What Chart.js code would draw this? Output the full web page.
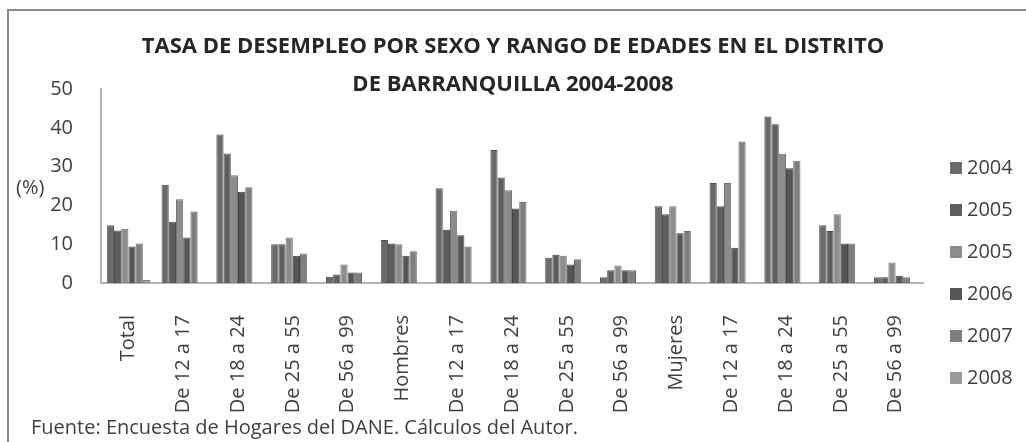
<!DOCTYPE html>
<html>
<head>
<meta charset="utf-8">
<script src="https://cdn.jsdelivr.net/npm/chart.js@4.4.1/dist/chart.umd.min.js"></script>
<style>
  html, body { margin: 0; padding: 0; background: #fff; }
  #wrap { position: relative; width: 1026px; height: 442px; overflow: hidden; }
  #frame { position: absolute; left: 7px; top: 9px; width: 1100px; height: 500px;
           border-top: 2px solid #8a8a8a; border-left: 2px solid #8a8a8a; }
  canvas { position: absolute; left: 0; top: 0; }
</style>
</head>
<body>
<div id="wrap">
  <div id="frame"></div>
  <canvas id="desempleoChart" width="1026" height="442"></canvas>
</div>
<script>
// categorias (grupos de edad por sexo)
const categorias = ['Total', 'De 12 a 17', 'De 18 a 24', 'De 25 a 55', 'De 56 a 99',
    'Hombres', 'De 12 a 17', 'De 18 a 24', 'De 25 a 55', 'De 56 a 99',
    'Mujeres', 'De 12 a 17', 'De 18 a 24', 'De 25 a 55', 'De 56 a 99'];

// tasas de desempleo (%)
const serie2004 = [14.9, 25.3, 38.3, 10.0, 1.6, 11.1, 24.4, 34.3, 6.5, 1.5, 19.8, 25.8, 42.9, 14.9, 1.5];
const serie2005 = [13.5, 15.8, 33.4, 10.0, 2.2, 10.2, 13.7, 27.2, 7.3, 3.3, 17.7, 19.8, 40.9, 13.4, 1.5];
const serie2005b = [14.0, 21.6, 27.8, 11.7, 4.8, 10.0, 18.6, 23.9, 7.0, 4.5, 19.8, 25.8, 33.3, 17.7, 5.3];
const serie2006 = [9.4, 11.7, 23.5, 7.0, 2.7, 7.0, 12.3, 19.2, 4.8, 3.3, 12.8, 9.1, 29.6, 10.2, 1.9];
const serie2007 = [10.2, 18.4, 24.7, 7.6, 2.7, 8.2, 9.4, 20.9, 6.1, 3.3, 13.4, 36.5, 31.5, 10.2, 1.5];
const serie2008 = [0.8, null, null, null, null, null, null, null, null, null, null, null, null, null, null];

const etiquetasSerie = ['2004', '2005', '2005', '2006', '2007', '2008'];
const coloresSerie = ['#6a6a6a', '#5e5e5e', '#8c8c8c', '#565656', '#7f7f7f', '#9a9a9a'];
const bordesSerie = ['#555555', '#4a4a4a', '#747474', '#444444', '#6a6a6a', '#838383'];

const ticksY = [0, 10, 20, 30, 40, 50];

const tituloLineas = ['TASA DE DESEMPLEO POR SEXO Y RANGO DE EDADES EN EL DISTRITO', 'DE BARRANQUILLA 2004-2008'];
const fuente = 'Fuente: Encuesta de Hogares del DANE. Cálculos del Autor.';

const valores = [serie2004, serie2005, serie2005b, serie2006, serie2007, serie2008];

const data = {
    labels: categorias,
    datasets: valores.map((v, i) => ({
        label: etiquetasSerie[i],
        data: v,
        backgroundColor: coloresSerie[i],
        borderColor: bordesSerie[i],
        borderWidth: 1,
        categoryPercentage: 0.79,
        barPercentage: 1.0
    }))
};

// titulo, etiqueta (%), leyenda y fuente dibujados a mano
const textosExtra = {
    id: 'textosExtra',
    afterDraw(chart) {
        const ctx = chart.ctx;
        ctx.save();
        ctx.fillStyle = '#262626';
        ctx.textAlign = 'center';
        ctx.textBaseline = 'middle';
        ctx.font = 'bold 22px "Open Sans"';
        ctx.fillText(tituloLineas[0], 513, 47);
        ctx.fillText(tituloLineas[1], 513, 85);

        ctx.fillStyle = '#404040';
        ctx.font = '20px "Open Sans"';
        ctx.textAlign = 'left';
        ctx.fillText('(%)', 16, 188);

        ctx.font = '20px "Open Sans"';
        ctx.fillText(fuente, 31, 428);

        // leyenda
        ctx.font = '20px "Open Sans"';
        chart.data.datasets.forEach((ds, i) => {
            const y = 168 + i * 42;
            ctx.fillStyle = ds.backgroundColor;
            ctx.fillRect(950, y - 6, 12, 12);
            ctx.fillStyle = '#404040';
            ctx.fillText(ds.label, 967, y);
        });
        ctx.restore();
    }
};

const config = {
    type: 'bar',
    data: data,
    options: {
        responsive: false,
        animation: false,
        layout: {
            padding: { top: 89, right: 103, left: 0, bottom: 0 }
        },
        scales: {
            x: {
                grid: { display: false },
                border: { display: true, color: '#b5b5b5', width: 2 },
                ticks: {
                    minRotation: 90,
                    maxRotation: 90,
                    autoSkip: false,
                    padding: 24,
                    color: '#404040',
                    font: { family: '"Open Sans"', size: 20 }
                },
                afterFit(scale) { scale.height = 159; }
            },
            y: {
                min: 0,
                max: 50,
                grid: { display: false },
                border: { display: true, color: '#b5b5b5', width: 2 },
                afterBuildTicks(scale) { scale.ticks = ticksY.map(v => ({ value: v })); },
                ticks: {
                    padding: 20,
                    color: '#404040',
                    font: { family: '"Open Sans"', size: 20 }
                },
                afterFit(scale) { scale.width = 101; }
            }
        },
        plugins: {
            legend: { display: false },
            title: { display: false },
            tooltip: { enabled: false }
        }
    },
    plugins: [textosExtra]
};

const ctx = document.getElementById('desempleoChart').getContext('2d');
const desempleoChart = new Chart(ctx, config);
</script>
</body>
</html>
